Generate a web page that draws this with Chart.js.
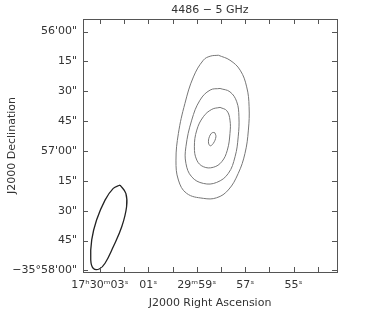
<!DOCTYPE html>
<html>
<head>
<meta charset="utf-8">
<script src="https://cdn.jsdelivr.net/npm/chart.js@4"></script>
<style>
  html, body { margin: 0; padding: 0; background: #fff; }
  #wrap { width: 382px; height: 317px; }
</style>
</head>
<body>
<div id="wrap"><canvas id="map" width="382" height="317"></canvas></div>
<script>
// RA in seconds relative to 17h30m00s, Dec in arcsec above -35d58'00"
const raTicks = [3, 2, 1, 0, -1, -2, -3, -4, -5, -6];
const raLabels = ['17ʰ30ᵐ03ˢ', '', '01ˢ', '', '29ᵐ59ˢ', '', '57ˢ', '', '55ˢ', ''];
const decTicks = [0, 15, 30, 45, 60, 75, 90, 105, 120];
const decLabels = ['−35°58\'00"', '45"', '30"', '15"', '57\'00"', '45"', '30"', '15"', '56\'00"'];
const titleText = '4486 − 5 GHz';

const level1 = [
  {x: -1.89, y: 108.1}, {x: -2.37, y: 105.6}, {x: -2.79, y: 100.6}, {x: -3.06, y: 92.2},
  {x: -3.16, y: 82.2}, {x: -3.13, y: 70.5}, {x: -2.99, y: 58.8}, {x: -2.71, y: 48.7},
  {x: -2.30, y: 40.4}, {x: -1.82, y: 36.5}, {x: -1.27, y: 36.2}, {x: -0.58, y: 38.7},
  {x: -0.24, y: 45.4}, {x: -0.14, y: 55.4}, {x: -0.24, y: 68.8}, {x: -0.51, y: 83.9},
  {x: -0.86, y: 97.2}, {x: -1.27, y: 105.6}, {x: -1.55, y: 107.6}, {x: -1.89, y: 108.1}
];
const level2 = [
  {x: -1.96, y: 91.4}, {x: -2.37, y: 89.7}, {x: -2.65, y: 84.7}, {x: -2.74, y: 77.2},
  {x: -2.71, y: 67.1}, {x: -2.58, y: 57.1}, {x: -2.30, y: 48.7}, {x: -1.82, y: 44.2},
  {x: -1.27, y: 43.7}, {x: -0.79, y: 47.0}, {x: -0.55, y: 53.8}, {x: -0.55, y: 62.1},
  {x: -0.79, y: 75.5}, {x: -1.13, y: 85.5}, {x: -1.55, y: 90.6}, {x: -1.96, y: 91.4}
];
const level3 = [
  {x: -1.96, y: 81.9}, {x: -2.24, y: 80.2}, {x: -2.37, y: 75.5}, {x: -2.37, y: 68.8},
  {x: -2.26, y: 60.4}, {x: -2.03, y: 54.6}, {x: -1.68, y: 51.8}, {x: -1.27, y: 52.1},
  {x: -1.00, y: 55.4}, {x: -0.90, y: 62.1}, {x: -1.00, y: 70.5}, {x: -1.27, y: 77.2},
  {x: -1.62, y: 80.9}, {x: -1.96, y: 81.9}
];
const level4 = [
  {x: -1.75, y: 69.1}, {x: -1.79, y: 67.1}, {x: -1.68, y: 63.8}, {x: -1.55, y: 62.6},
  {x: -1.48, y: 64.6}, {x: -1.55, y: 68.0}, {x: -1.66, y: 69.3}, {x: -1.75, y: 69.1}
];
// restoring beam
const beam = [
  {x: 2.17, y: 42.9}, {x: 1.93, y: 38.7}, {x: 1.90, y: 32.0}, {x: 2.10, y: 21.9},
  {x: 2.45, y: 11.9}, {x: 2.79, y: 3.6}, {x: 3.03, y: 0.7}, {x: 3.28, y: 1.1},
  {x: 3.38, y: 5.2}, {x: 3.34, y: 15.3}, {x: 3.14, y: 25.3}, {x: 2.79, y: 35.3},
  {x: 2.45, y: 41.2}, {x: 2.17, y: 42.9}
];

const textColor = '#333';
const font = {family: 'DejaVu Sans', size: 11};

function contour(points, color, width) {
  return {
    data: points,
    showLine: true,
    borderColor: color,
    borderWidth: width,
    pointRadius: 0,
    tension: 0.4,
    fill: false
  };
}

// frame with inward ticks on all four sides, plus title over the plot box
const framePlugin = {
  id: 'frame',
  afterDraw(chart) {
    const {ctx, chartArea: a, scales} = chart;
    const len = 5;
    ctx.save();
    ctx.strokeStyle = '#555';
    ctx.lineWidth = 1;
    ctx.strokeRect(a.left + 0.5, a.top + 0.5, a.right - a.left, a.bottom - a.top);
    ctx.beginPath();
    raTicks.forEach(v => {
      const x = Math.round(scales.x.getPixelForValue(v)) + 0.5;
      ctx.moveTo(x, a.bottom); ctx.lineTo(x, a.bottom - len);
      ctx.moveTo(x, a.top); ctx.lineTo(x, a.top + len);
    });
    decTicks.forEach(v => {
      const y = Math.round(scales.y.getPixelForValue(v)) + 0.5;
      ctx.moveTo(a.left, y); ctx.lineTo(a.left + len, y);
      ctx.moveTo(a.right, y); ctx.lineTo(a.right - len, y);
    });
    ctx.stroke();
    ctx.fillStyle = textColor;
    ctx.font = '11px "DejaVu Sans"';
    ctx.textAlign = 'center';
    ctx.textBaseline = 'middle';
    ctx.fillText(titleText, (a.left + a.right) / 2, 10);
    ctx.restore();
  }
};

new Chart(document.getElementById('map'), {
  type: 'scatter',
  data: {
    datasets: [
      contour(level1, '#777', 1),
      contour(level2, '#777', 1),
      contour(level3, '#777', 1),
      contour(level4, '#777', 1),
      contour(beam, '#222', 1.3)
    ]
  },
  options: {
    responsive: false,
    animation: false,
    layout: {padding: {left: 0, right: 45, top: 19, bottom: 0}},
    plugins: {
      legend: {display: false},
      tooltip: {enabled: false}
    },
    scales: {
      x: {
        type: 'linear',
        reverse: true,
        min: -6.79,
        max: 3.70,
        grid: {display: false, drawTicks: false},
        border: {display: false},
        afterBuildTicks(scale) { scale.ticks = raTicks.map(v => ({value: v})); },
        afterFit(scale) { scale.height = 45; },
        ticks: {
          autoSkip: false,
          maxRotation: 0,
          padding: 7,
          color: textColor,
          font: font,
          callback: (v) => raLabels[raTicks.indexOf(v)]
        },
        title: {
          display: true,
          text: 'J2000 Right Ascension',
          color: textColor,
          font: font,
          padding: {top: 0, bottom: 7}
        }
      },
      y: {
        type: 'linear',
        min: -0.8,
        max: 126.3,
        grid: {display: false, drawTicks: false},
        border: {display: false},
        afterBuildTicks(scale) { scale.ticks = decTicks.map(v => ({value: v})); },
        afterFit(scale) { scale.width = 83; },
        ticks: {
          autoSkip: false,
          padding: 6,
          color: textColor,
          font: font,
          callback: (v) => decLabels[decTicks.indexOf(v)]
        },
        title: {
          display: true,
          text: 'J2000 Declination',
          color: textColor,
          font: font,
          padding: {top: 6, bottom: 0}
        }
      }
    }
  },
  plugins: [framePlugin]
});
</script>
</body>
</html>
